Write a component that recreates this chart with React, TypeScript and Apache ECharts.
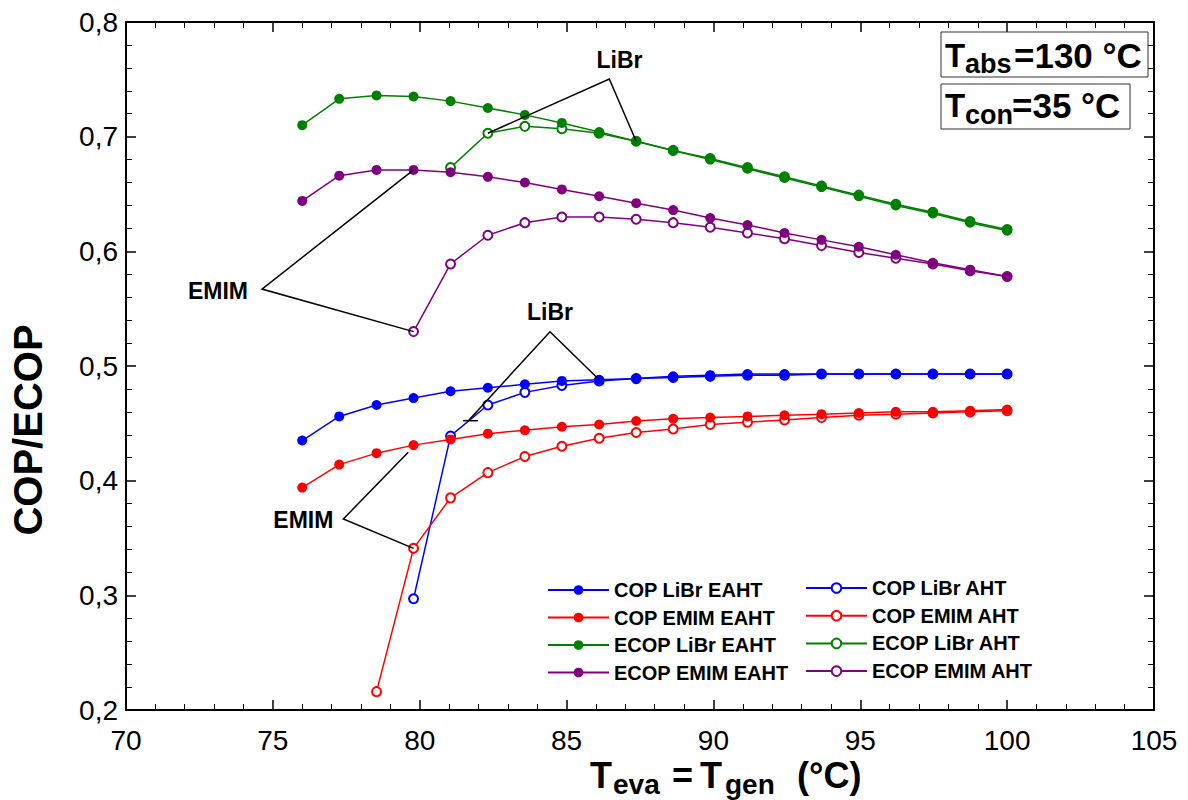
import React, { useEffect, useRef } from "react";
import * as echarts from "echarts";

// ---------- data ----------
const T_EVA = [76, 77.26, 78.53, 79.79, 81.05, 82.32, 83.58, 84.84, 86.11, 87.37, 88.63, 89.89, 91.16, 92.42, 93.68, 94.95, 96.21, 97.47, 98.74, 100];

const COP_LIBR_EAHT = [0.435, 0.456, 0.466, 0.472, 0.478, 0.481, 0.484, 0.487, 0.488, 0.489, 0.491, 0.492, 0.493, 0.493, 0.493, 0.493, 0.493, 0.493, 0.493, 0.493];
const COP_EMIM_EAHT = [0.394, 0.414, 0.424, 0.431, 0.436, 0.441, 0.444, 0.447, 0.449, 0.452, 0.454, 0.455, 0.456, 0.457, 0.458, 0.459, 0.460, 0.460, 0.461, 0.462];
const ECOP_LIBR_EAHT = [0.710, 0.733, 0.736, 0.735, 0.731, 0.725, 0.719, 0.712, 0.704, 0.696, 0.688, 0.680, 0.672, 0.664, 0.656, 0.648, 0.640, 0.633, 0.625, 0.618];
const ECOP_EMIM_EAHT = [0.644, 0.666, 0.671, 0.671, 0.669, 0.665, 0.660, 0.654, 0.648, 0.642, 0.636, 0.629, 0.623, 0.616, 0.610, 0.604, 0.597, 0.590, 0.584, 0.578];

// AHT series start later (they cover the last N temperatures)
const COP_LIBR_AHT = [0.297, 0.439, 0.466, 0.477, 0.483, 0.487, 0.489, 0.490, 0.491, 0.492, 0.492, 0.493, 0.493, 0.493, 0.493, 0.493, 0.493];
const COP_EMIM_AHT = [0.216, 0.341, 0.385, 0.407, 0.421, 0.430, 0.437, 0.442, 0.445, 0.449, 0.451, 0.453, 0.455, 0.457, 0.458, 0.459, 0.460, 0.461];
const ECOP_LIBR_AHT = [0.673, 0.703, 0.709, 0.707, 0.703, 0.696, 0.688, 0.681, 0.673, 0.665, 0.657, 0.649, 0.641, 0.634, 0.626, 0.619];
const ECOP_EMIM_AHT = [0.530, 0.589, 0.614, 0.625, 0.630, 0.630, 0.628, 0.625, 0.621, 0.616, 0.611, 0.605, 0.599, 0.594, 0.589, 0.583, 0.578];

const X_TICKS = [70, 75, 80, 85, 90, 95, 100, 105];
const Y_TICKS = ["0,2", "0,3", "0,4", "0,5", "0,6", "0,7", "0,8"];

const LEGEND_LEFT = ["COP LiBr EAHT", "COP EMIM EAHT", "ECOP LiBr EAHT", "ECOP EMIM EAHT"];
const LEGEND_RIGHT = ["COP LiBr AHT", "COP EMIM AHT", "ECOP LiBr AHT", "ECOP EMIM AHT"];

const FONT = '"Liberation Sans", Arial, Helvetica, sans-serif';

const pair = (ys: number[]) => {
  const off = T_EVA.length - ys.length;
  return ys.map((y, i) => [T_EVA[off + i], y]);
};

const filled = (name: string, color: string, ys: number[]) => ({
  name,
  type: "line",
  data: pair(ys),
  symbol: "circle",
  symbolSize: 10,
  lineStyle: { color, width: 1.5 },
  itemStyle: { color, borderColor: color, borderWidth: 0 },
  z: 3,
});
const empty = (name: string, color: string, ys: number[]) => ({
  name,
  type: "line",
  data: pair(ys),
  symbol: "emptyCircle",
  symbolSize: 9,
  lineStyle: { color, width: 1.5 },
  itemStyle: { color, borderColor: color, borderWidth: 1.5 },
  z: 2,
});

export default function App() {
  const ref = useRef<HTMLDivElement>(null);
  useEffect(() => {
    if (!ref.current) return;
    const chart = echarts.init(ref.current, undefined, { renderer: "svg" });

    const axisCommon = {
      type: "value",
      axisLine: { show: true, onZero: false, lineStyle: { color: "#000", width: 2 } },
      axisTick: { show: true, inside: true, length: 10, lineStyle: { color: "#000", width: 1.5 } },
      minorTick: { show: true, splitNumber: 5, length: 6, lineStyle: { color: "#000", width: 1 } },
      splitLine: { show: false },
      minorSplitLine: { show: false },
    };

    const option: any = {
      animation: false,
      backgroundColor: "#fff",
      grid: { left: 126, right: 34, top: 22, bottom: 90, containLabel: false },
      xAxis: [
        {
          ...axisCommon,
          position: "bottom",
          min: X_TICKS[0],
          max: X_TICKS[X_TICKS.length - 1],
          interval: 5,
          axisLabel: { fontSize: 28, color: "#000", fontFamily: FONT, margin: 16 },
        },
        {
          ...axisCommon,
          position: "top",
          min: X_TICKS[0],
          max: X_TICKS[X_TICKS.length - 1],
          interval: 5,
          axisLabel: { show: false },
        },
      ],
      yAxis: [
        {
          ...axisCommon,
          position: "left",
          min: 0.2,
          max: 0.8,
          interval: 0.1,
          axisLabel: {
            fontSize: 28,
            color: "#000",
            fontFamily: FONT,
            margin: 8,
            formatter: (v: number) => Y_TICKS[Math.round((v - 0.2) * 10)] ?? "",
          },
        },
        {
          ...axisCommon,
          position: "right",
          min: 0.2,
          max: 0.8,
          interval: 0.1,
          axisLabel: { show: false },
        },
      ],
      legend: [
        {
          data: LEGEND_LEFT,
          orient: "vertical",
          left: 547,
          top: 579,
          padding: 0,
          itemWidth: 61,
          itemHeight: 12,
          itemGap: 5.5,
          selectedMode: false,
          textStyle: { fontSize: 20, fontWeight: "bold", color: "#000", fontFamily: FONT, lineHeight: 22 },
        },
        {
          data: LEGEND_RIGHT,
          orient: "vertical",
          left: 805,
          top: 577,
          padding: 0,
          itemWidth: 61,
          itemHeight: 12,
          itemGap: 5.7,
          selectedMode: false,
          textStyle: { fontSize: 20, fontWeight: "bold", color: "#000", fontFamily: FONT, lineHeight: 22 },
        },
      ],
      series: [
        filled("COP LiBr EAHT", "#0000ff", COP_LIBR_EAHT),
        filled("COP EMIM EAHT", "#ff0000", COP_EMIM_EAHT),
        filled("ECOP LiBr EAHT", "#008000", ECOP_LIBR_EAHT),
        filled("ECOP EMIM EAHT", "#800080", ECOP_EMIM_EAHT),
        empty("COP LiBr AHT", "#0000ff", COP_LIBR_AHT),
        empty("COP EMIM AHT", "#ff0000", COP_EMIM_AHT),
        empty("ECOP LiBr AHT", "#008000", ECOP_LIBR_AHT),
        empty("ECOP EMIM AHT", "#800080", ECOP_EMIM_AHT),
      ],
    };
    chart.setOption(option);

    // annotations anchored in data space
    const P = (p: number[]) => chart.convertToPixel({ gridIndex: 0 }, p) as number[];
    const lineStyle = { stroke: "#000", lineWidth: 1.5, fill: null };
    const pl = (pts: number[][]) => ({ type: "polyline", shape: { points: pts.map(P) }, style: lineStyle, z: 10, silent: true });
    const lbl = (text: string, p: number[]) => {
      const q = P(p);
      return {
        type: "text", x: q[0], y: q[1], z: 11,
        style: { text, fontSize: 23, fontWeight: "bold", fontFamily: FONT, fill: "#000", align: "center", verticalAlign: "middle" },
      };
    };
    const txt = (text: string, x: number, y: number, size: number, extra: any = {}) => ({
      type: "text", x, y, z: 12,
      style: { text, fontSize: size, fontWeight: "bold", fontFamily: FONT, fill: "#000", align: "left", verticalAlign: "middle", ...extra },
    });

    const graphic: any[] = [
      // LiBr (ECOP)
      pl([[82.32, 0.703], [86.455, 0.7503], [87.37, 0.696]]),
      lbl("LiBr", [86.80, 0.7668]),
      // EMIM (ECOP)
      pl([[79.79, 0.671], [74.63, 0.5671], [79.79, 0.530]]),
      lbl("EMIM", [73.13, 0.5658]),
      // LiBr (COP)
      pl([[81.655, 0.4523], [84.436, 0.5299], [86.11, 0.488]]),
      pl([[81.48, 0.4523], [81.99, 0.4523]]),
      lbl("LiBr", [84.436, 0.5475]),
      // EMIM (COP)
      pl([[79.61, 0.4247], [77.40, 0.3666], [79.79, 0.341]]),
      lbl("EMIM", [76.04, 0.3653]),
      // condition boxes
      { type: "rect", shape: { x: 941, y: 32, width: 207, height: 45 }, style: { fill: "#fff", stroke: "#333", lineWidth: 1 }, z: 11 },
      { type: "rect", shape: { x: 941, y: 84, width: 189, height: 45 }, style: { fill: "#fff", stroke: "#333", lineWidth: 1 }, z: 11 },
      txt("T", 945, 55, 33),
      txt("abs", 965, 64, 27),
      txt("=130 °C", 1014, 55, 35),
      txt("T", 945, 105, 33),
      txt("con", 965, 115, 27),
      txt("=35 °C", 1012, 105, 35),
      // x axis title
      txt("T", 590, 775, 36),
      txt("eva", 613, 784, 28),
      txt("=", 672, 775, 36),
      txt("T", 700, 775, 36),
      txt("gen", 725, 784, 28),
      txt("(°C)", 797, 775, 36),
      // y axis title
      {
        type: "text", x: 28, y: 430, rotation: Math.PI / 2, z: 12,
        style: { text: "COP/ECOP", fontSize: 40, fontWeight: "bold", fontFamily: FONT, fill: "#000", align: "center", verticalAlign: "middle" },
      },
    ];
    chart.setOption({ graphic });

    return () => chart.dispose();
  }, []);
  return (
    <div
      ref={ref}
      style={{ position: "fixed", left: 0, top: 0, width: 1188, height: 800, background: "#fff" }}
    />
  );
}
